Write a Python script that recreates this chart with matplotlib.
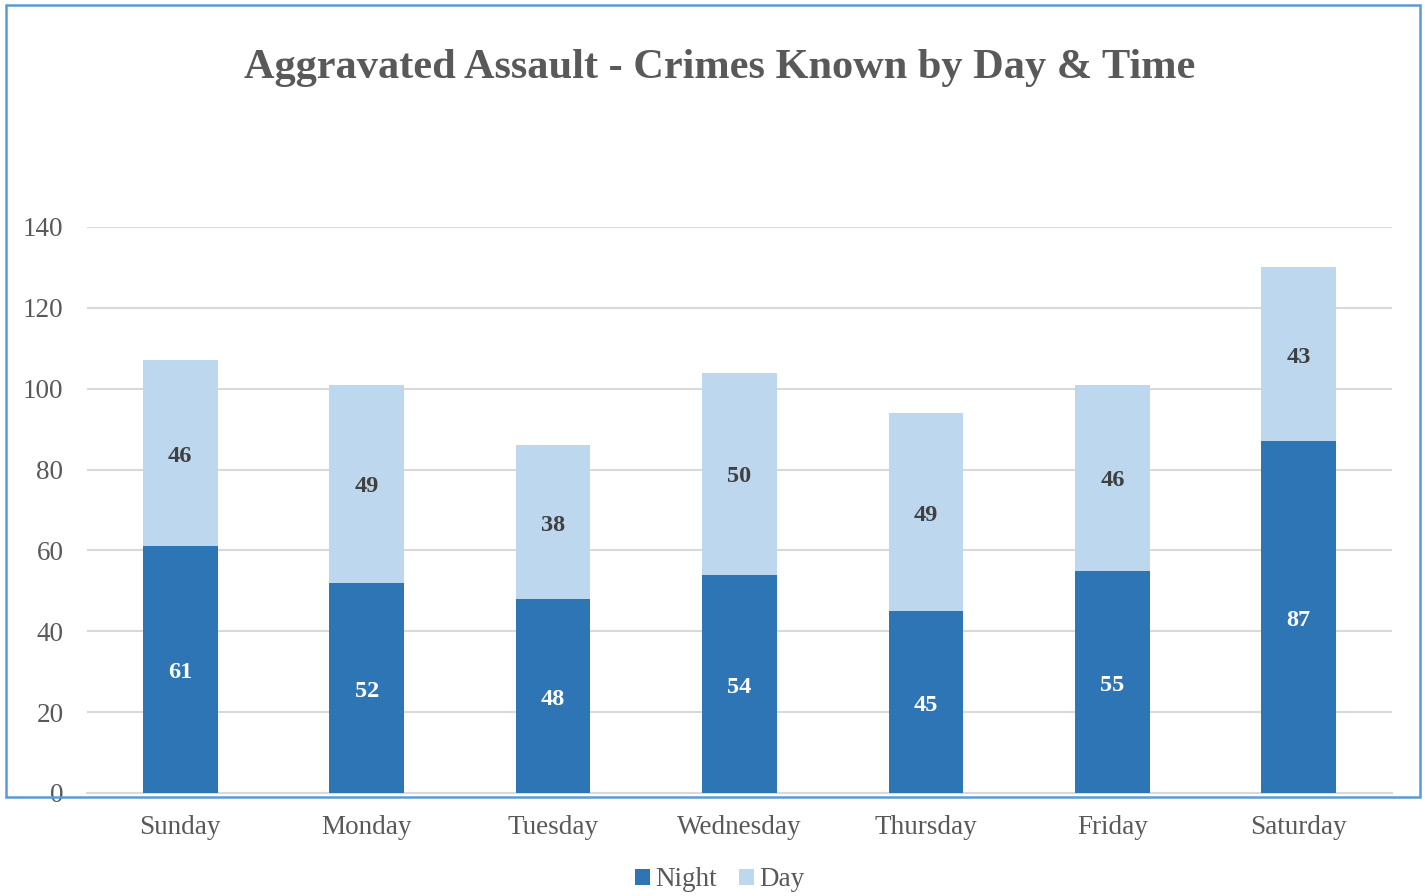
import matplotlib.pyplot as plt
from matplotlib.patches import Rectangle

days = ["Sunday", "Monday", "Tuesday", "Wednesday", "Thursday", "Friday", "Saturday"]
night = [61, 52, 48, 54, 45, 55, 87]
day = [46, 49, 38, 50, 49, 46, 43]

plt.rcParams["font.family"] = ["Liberation Serif", "DejaVu Serif"]

fig = plt.figure(figsize=(14.25, 8.96), dpi=100)
ax = fig.add_axes([0.0611, 0.1150, 0.9157, 0.6317])

x = range(len(days))
b1 = ax.bar(x, night, width=0.4, color="#2e75b6", label="Night", zorder=3)
b2 = ax.bar(x, day, width=0.4, bottom=night, color="#bdd7ee", label="Day", zorder=3)

for i in x:
    ax.text(i, night[i] / 2 - 0.8, str(night[i]), ha="center", va="center",
            fontsize=17.5, fontweight="bold", color="white", zorder=4)
    ax.text(i, night[i] + day[i] / 2 - 0.8, str(day[i]), ha="center", va="center",
            fontsize=17.5, fontweight="bold", color="#404040", zorder=4)

ax.set_xlim(-0.5, 6.5)
ax.set_ylim(0, 140)
ax.set_yticks(range(0, 141, 20))
ax.set_xticks(list(x))
ax.set_xticklabels(days)
ax.grid(axis="y", color="#d9d9d9", linewidth=1.5, zorder=0)
for s in ["top", "right", "left"]:
    ax.spines[s].set_visible(False)
ax.spines["bottom"].set_color("#d9d9d9")
ax.spines["bottom"].set_linewidth(1.5)
ax.tick_params(length=0, labelsize=19.5, labelcolor="#595959")
ax.tick_params(axis="y", pad=17)
ax.tick_params(axis="x", pad=16)

fig.text(0.505, 0.924, "Aggravated Assault - Crimes Known by Day & Time",
         ha="center", va="center", fontsize=30.5, fontweight="bold", color="#595959")

fig.legend(handles=[b1, b2], loc="center", bbox_to_anchor=(0.505, 0.018), ncol=2,
           frameon=False, fontsize=19.5, handlelength=0.55, handleheight=0.55,
           handletextpad=0.2, columnspacing=0.8, labelcolor="#595959")

border = Rectangle((6 / 1425, 1 - 797 / 896), (1420 - 6) / 1425, (797 - 5) / 896,
                   transform=fig.transFigure, fill=False, edgecolor="#5b9bd5",
                   linewidth=1.8, zorder=10)
fig.patches.append(border)

fig.savefig("out.png", dpi=100)
